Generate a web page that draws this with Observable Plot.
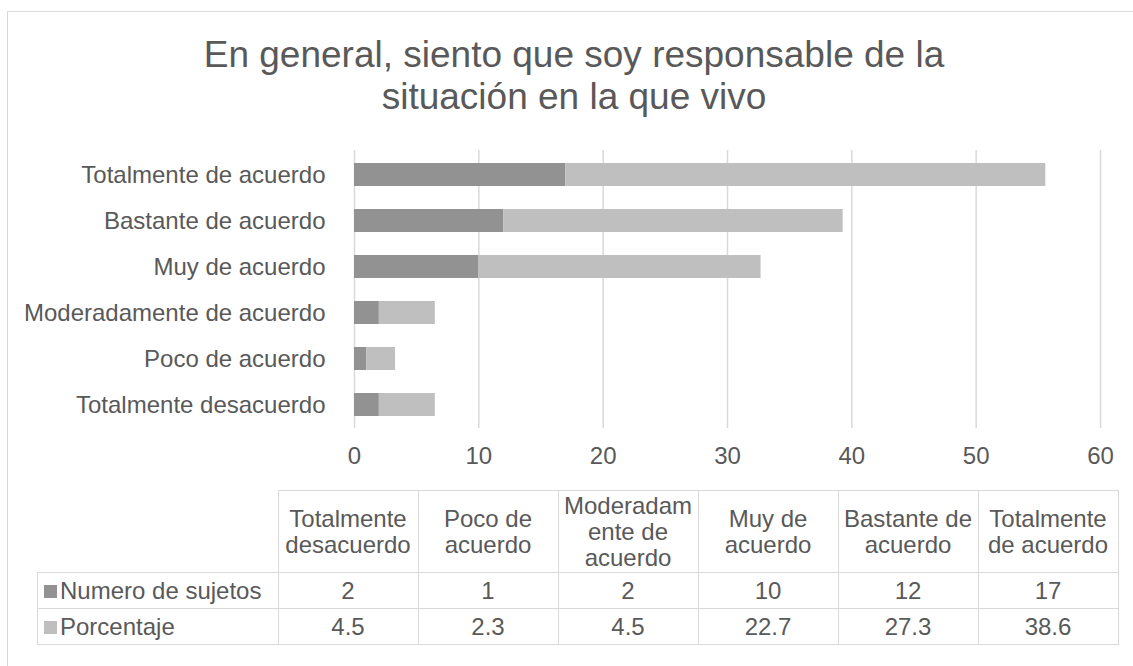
<!DOCTYPE html>
<html><head><meta charset="utf-8">
<script src="https://cdn.jsdelivr.net/npm/d3@7"></script>
<script src="https://cdn.jsdelivr.net/npm/@observablehq/plot@0.6"></script>
<style>
body{margin:0;background:#fff;font-family:"Liberation Sans",Arial,sans-serif;color:#595959;overflow:hidden;width:1133px;height:666px;position:relative}
#frame{position:absolute;left:7px;top:11px;width:1140px;height:700px;border:1px solid #d9d9d9;box-sizing:border-box}
#title{position:absolute;left:0;width:1148px;top:34px;text-align:center;font-size:37px;line-height:42px;color:#595959}
#plot{position:absolute;left:0;top:130px}
table{position:absolute;left:37px;top:490px;border-collapse:collapse;font-size:24px;color:#595959}
td{border:1.5px solid #d9d9d9;text-align:center;padding:0;line-height:26px}
td.h{text-align:left;padding-left:6px;white-space:nowrap}
.sw{display:inline-block;width:13px;height:13px;margin-right:3px;vertical-align:1px}
</style></head><body>
<div id="frame"></div>
<div id="title">En general, siento que soy responsable de la<br>situación en la que vivo</div>
<div id="plot"></div>
<table id="tbl"></table>
<script>
const categories = ["Totalmente desacuerdo","Poco de acuerdo","Moderadamente de acuerdo","Muy de acuerdo","Bastante de acuerdo","Totalmente de acuerdo"];
const tableHeaders = ["Totalmente\ndesacuerdo","Poco de\nacuerdo","Moderadam\nente de\nacuerdo","Muy de\nacuerdo","Bastante de\nacuerdo","Totalmente\nde acuerdo"];
const seriesNames = ["Numero de sujetos","Porcentaje"];
const sujetos = [2,1,2,10,12,17];
const porcentaje = [4.5,2.3,4.5,22.7,27.3,38.6];
const xTicks = [0,10,20,30,40,50,60];
const colors = ["#929292","#bfbfbf"];

const rows = [];
categories.forEach((c,i)=>{
  rows.push({cat:c, series:seriesNames[0], value:sujetos[i]});
  rows.push({cat:c, series:seriesNames[1], value:porcentaje[i]});
});

const chart = Plot.plot({
  width:1133, height:340,
  marginLeft:354, marginRight:33, marginTop:20, marginBottom:42,
  style:{fontFamily:"Liberation Sans, Arial, sans-serif", fontSize:"24px", color:"#595959", background:"transparent"},
  x:{domain:[0,60], ticks:xTicks, label:null},
  y:{domain:[...categories].reverse(), paddingInner:0.5, paddingOuter:0.25, label:null},
  color:{domain:seriesNames, range:colors},
  marks:[
    Plot.gridX(xTicks,{stroke:"#d9d9d9", strokeOpacity:1, strokeWidth:1.5}),
    Plot.barX(rows, Plot.stackX({y:"cat", x:"value", fill:"series", order:null})),
    Plot.axisX({ticks:xTicks, tickSize:0, tickPadding:18, fontSize:24, fill:"#595959", label:null}),
    Plot.axisY({tickSize:0, tickPadding:29, fontSize:24, fill:"#595959", label:null})
  ]
});
document.getElementById("plot").appendChild(chart);

const tbl = document.getElementById("tbl");
let html = '<tr style="height:82px"><td style="width:240px;border-top:none;border-left:none"></td>';
tableHeaders.forEach(h=>{ html += '<td style="width:139px">'+h.split("\n").join("<br>")+'</td>'; });
html += '</tr>';
[sujetos,porcentaje].forEach((arr,k)=>{
  html += '<tr style="height:36px"><td class="h"><span class="sw" style="background:'+colors[k]+'"></span>'+seriesNames[k]+'</td>';
  arr.forEach(v=>{ html += '<td>'+v+'</td>'; });
  html += '</tr>';
});
tbl.innerHTML = html;
</script>
</body></html>
